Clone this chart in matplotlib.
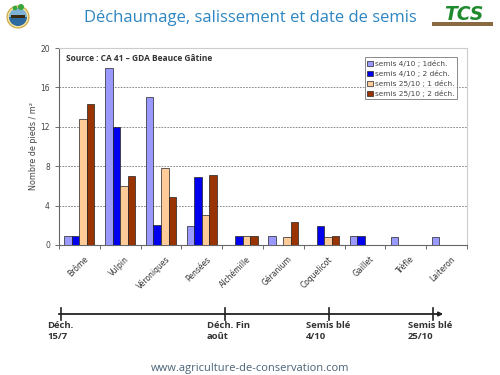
import numpy as np
import matplotlib
matplotlib.use('Agg')
import matplotlib.pyplot as plt
from matplotlib.patches import Circle, Rectangle, Wedge

categories = ['Brôme', 'Vulpin', 'Véroniques', 'Pensées', 'Alchémille',
              'Géranium', 'Coquelicot', 'Gaillet', 'Trèfle', 'Laiteron']
semis_4_1 = [0.9, 18, 15, 1.9, 0, 0.9, 0, 0.9, 0.8, 0.8]
semis_4_2 = [0.9, 12, 2, 6.9, 0.9, 0, 1.9, 0.9, 0, 0]
semis_25_1 = [12.8, 6, 7.8, 3, 0.9, 0.8, 0.8, 0, 0, 0]
semis_25_2 = [14.3, 7, 4.9, 7.1, 0.9, 2.3, 0.9, 0, 0, 0]
series_labels = ['semis 4/10 ; 1déch.', 'semis 4/10 ; 2 déch.',
                 'semis 25/10 ; 1 déch.', 'semis 25/10 ; 2 déch.']
colors = ['#9999FF', '#0000EE', '#FFCC99', '#993300']
yticks = [0, 4, 8, 12, 16, 20]

timeline_pos = [0, 0.38, 0.62, 0.86]
timeline_labels = ['Déch.\n15/7', 'Déch. Fin\naoût', 'Semis blé\n4/10', 'Semis blé\n25/10']

FONT = 'Open Sans'

fig = plt.figure(figsize=(5, 3.75), dpi=100)
fig.patch.set_facecolor('white')

# main bar chart
ax = fig.add_axes([0.118, 0.347, 0.816, 0.525])
x = np.arange(len(categories))
w = 0.185
for i, vals in enumerate([semis_4_1, semis_4_2, semis_25_1, semis_25_2]):
    ax.bar(x + (i - 1.5) * w, vals, w, color=colors[i], edgecolor='#222222',
           linewidth=0.5, label=series_labels[i], zorder=3)

ax.set_xlim(-0.5, len(categories) - 0.5)
ax.set_ylim(0, 20)
ax.set_yticks(yticks)
ax.tick_params(axis='y', labelsize=5.5, colors='#555555', length=3, width=0.6)
for t in ax.get_yticklabels():
    t.set_color('#444444')
ax.set_xticks(np.arange(len(categories) + 1) - 0.5)
ax.set_xticklabels([])
ax.tick_params(axis='x', length=3, width=0.6, color='#555555')
for i, c in enumerate(categories):
    ax.text(i + 0.1, -1.0, c, rotation=45, ha='right', va='top', fontsize=5.5,
            color='#333333', rotation_mode='anchor')
for yv in yticks[1:-1]:
    ax.axhline(yv, color='#777777', linestyle=(0, (2, 1.5)), linewidth=0.6, zorder=1)
ax.spines['left'].set_color('#666666')
ax.spines['bottom'].set_color('#666666')
ax.spines['top'].set_color('#cccccc')
ax.spines['right'].set_color('#cccccc')
ax.set_ylabel('Nombre de pieds / m²', fontsize=5.8, color='#444444', labelpad=2)

ax.text(0.018, 0.945, 'Source : CA 41 – GDA Beauce Gâtine', transform=ax.transAxes,
        fontsize=6, fontweight='bold', family=FONT, color='#333333', va='center')

leg = ax.legend(loc='upper right', bbox_to_anchor=(0.975, 0.952), fontsize=5.3,
                frameon=True, fancybox=False, handlelength=0.7, handleheight=0.7,
                handletextpad=0.3, borderpad=0.35, labelspacing=0.4, borderaxespad=0)
leg.get_frame().set_edgecolor('#555555')
leg.get_frame().set_linewidth(0.6)
for t in leg.get_texts():
    t.set_color('#444444')

# title
fig.text(0.5, 0.953, 'Déchaumage, salissement et date de semis', ha='center', va='center',
         fontsize=12, color='#2E86C1', family=FONT)

# logos
lax = fig.add_axes([0, 0.88, 1, 0.12])
lax.set_xlim(0, 500)
lax.set_ylim(45, 0)
lax.axis('off')
lax.add_patch(Circle((18, 17), 11, facecolor='#f2e2a0', edgecolor='#c9a640', linewidth=0.8))
lax.add_patch(Wedge((18, 17), 9, 0, 180, facecolor='#2c6aa0', edgecolor='none'))
lax.add_patch(Wedge((18, 17), 9, 180, 360, facecolor='#7fb3d5', edgecolor='none'))
lax.add_patch(Rectangle((11, 15), 14, 3, facecolor='#3a2a10', edgecolor='none'))
lax.add_patch(Circle((21, 7), 3, facecolor='#3aa53a', edgecolor='none'))
lax.add_patch(Circle((15, 8), 2.3, facecolor='#3aa53a', edgecolor='none'))
lax.add_patch(Rectangle((432, 22), 61, 3.5, facecolor='#8a6a40', edgecolor='none'))
lax.text(464, 14, 'TCS', ha='center', va='center', fontsize=13.5, fontweight='bold',
         style='italic', color='#1f8a2e', family='DejaVu Sans')

# timeline
tax = fig.add_axes([0, 0, 1, 0.2])
tax.set_xlim(0, 500)
tax.set_ylim(375, 300)
tax.axis('off')
x0, x1 = 60.7, 432.7
tax.annotate('', xy=(446, 314), xytext=(56, 314),
             arrowprops=dict(arrowstyle='-|>', color='#222222', lw=1.3,
                             mutation_scale=6))
label_x = [47, 207, 306, 408]
for p, lbl, lx in zip(timeline_pos, timeline_labels, label_x):
    px = x0 + p / timeline_pos[-1] * (x1 - x0)
    tax.plot([px, px], [308, 320], color='#222222', lw=1.2)
    tax.text(lx, 321, lbl, ha='left', va='top', fontsize=6.8, fontweight='bold',
             color='#333333', family=FONT, linespacing=1.25)

fig.text(0.5, 0.018, 'www.agriculture-de-conservation.com', ha='center', va='center',
         fontsize=8, color='#4a6378', family=FONT)

fig.savefig('out.png', dpi=100)
